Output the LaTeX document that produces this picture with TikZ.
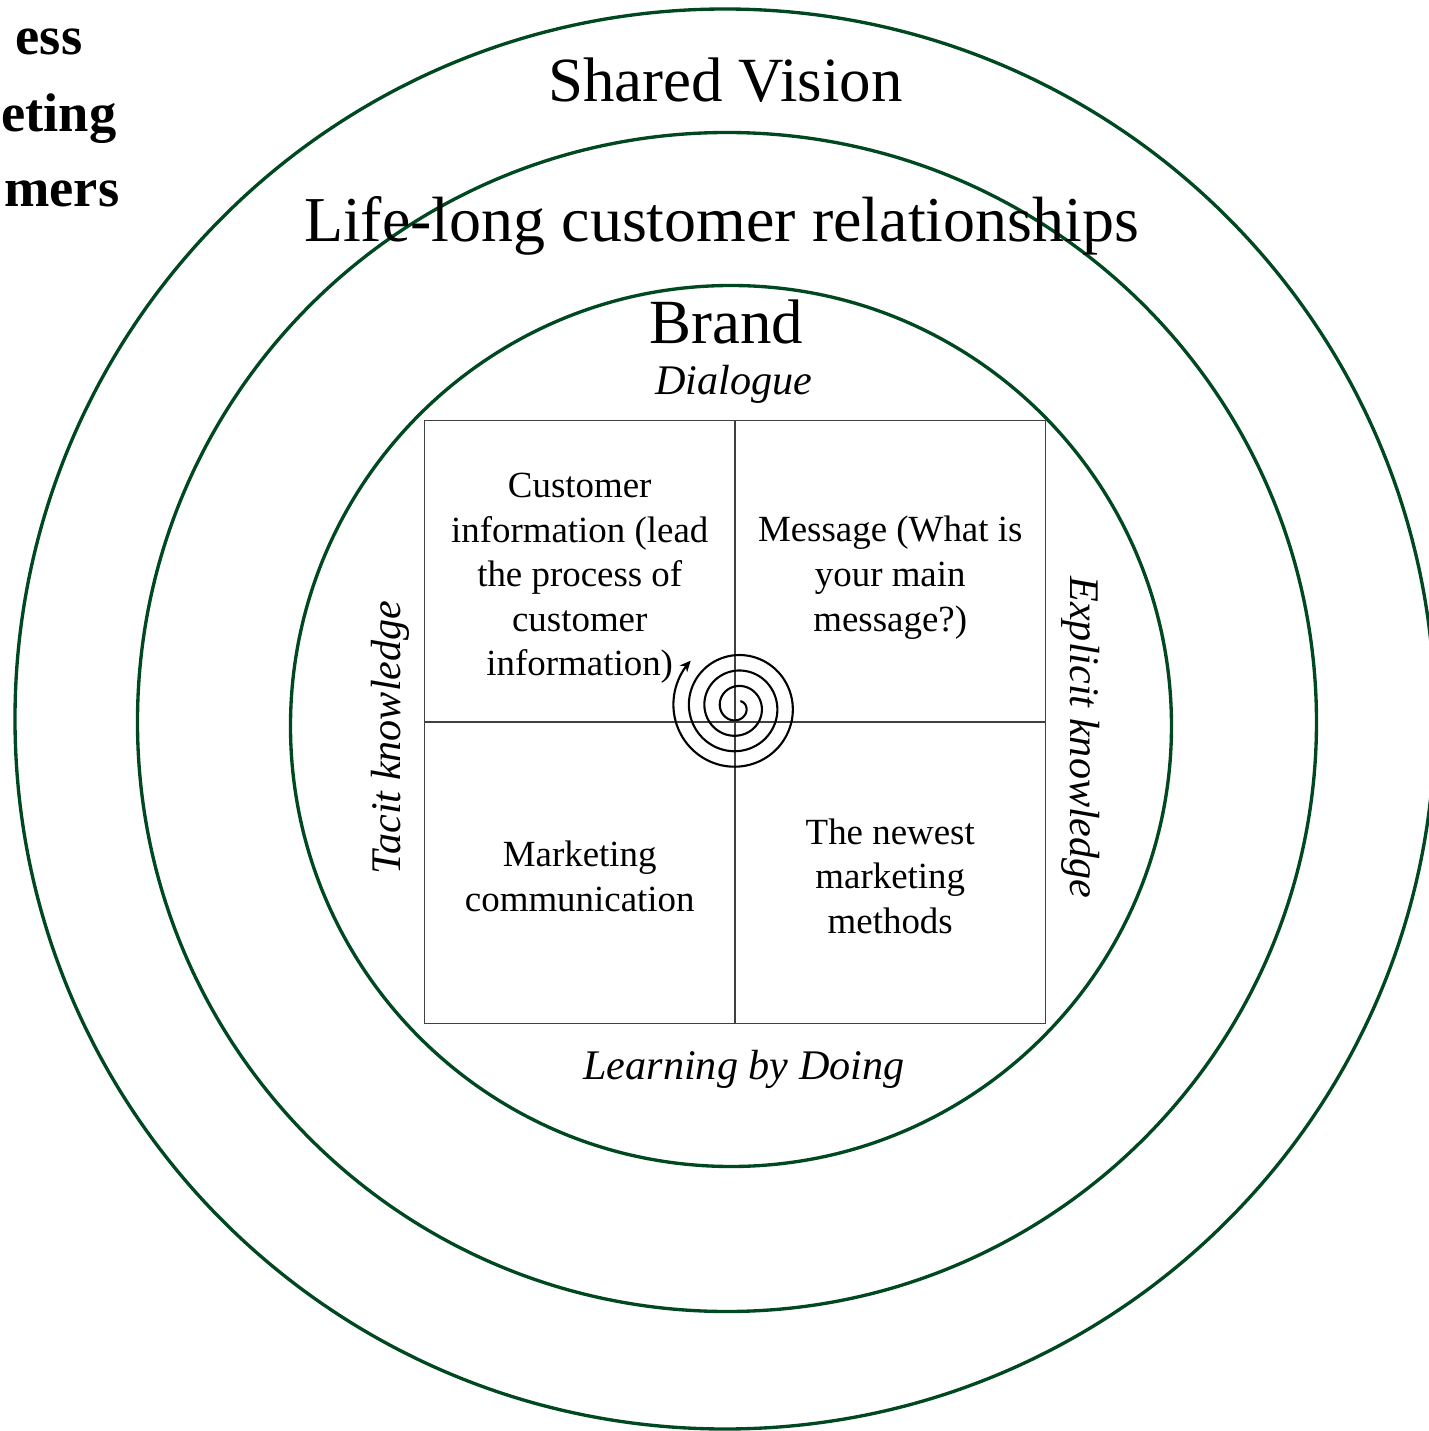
\documentclass[tikz,border=0pt]{standalone}
\usepackage{fontspec}
\setmainfont{Liberation Serif}
\usetikzlibrary{positioning, arrows.meta}
\definecolor{ringgreen}{RGB}{0,72,32}

\begin{document}
\begin{tikzpicture}[
	ring/.style={draw=ringgreen, line width=0.95pt},
	quad/.style={rectangle, draw=black!75, line width=0.45pt, minimum width=3.105cm, minimum height=3.015cm, inner sep=0pt, outer sep=0pt, align=center, font=\fontsize{10.5pt}{12.7pt}\selectfont},
	ringlabel/.style={font=\fontsize{17.9pt}{21pt}\selectfont},
	axislabel/.style={font=\fontsize{12pt}{14pt}\selectfont\itshape},
	cut/.style={font=\fontsize{15.5pt}{19pt}\selectfont\bfseries, inner sep=0pt},
	spiral/.style={line width=0.6pt, -{Stealth[length=1.1mm, width=1mm]}}
	]
	\useasboundingbox (-7.28,-7.11) rectangle (7.01,7.20);
	
	% Cerchi
	\draw[ring] (-0.03,0.01) circle (7.10);
	\draw[ring] (-0.01,-0.02) circle (5.895);
	\draw[ring] (0.03,-0.06) circle (4.405);
	
	% Titolo tagliato
	\node[cut, anchor=base east] (ess) at (-6.45,6.65) {ess};
	\node[cut, anchor=base east] (eting) at (-6.11,5.88) {eting};
	\node[cut, anchor=base east] (mers) at (-6.08,5.13) {mers};
	
	% Livelli
	\node[ringlabel, anchor=base] (vision) at (-0.025,6.18) {Shared Vision};
	\node[ringlabel, anchor=base, font=\fontsize{18.2pt}{21pt}\selectfont] (lifelong) at (-0.065,4.78) {Life-long customer relationships};
	\node[ringlabel, anchor=base] (brand) at (-0.015,3.76) {Brand};
	
	% Quadranti
	\coordinate (mid) at (0.07,-0.02);
	\node[quad, anchor=south east] (info) at (mid) {\rule{0pt}{11pt}Customer\\information (lead\\the process of\\customer\\information)};
	\node[quad, right=0pt of info] (message) {\rule{0pt}{11pt}Message (What is\\your main\\message?)};
	\node[quad, below=0pt of info] (communication) {\rule{0pt}{9.3pt}Marketing\\communication};
	\node[quad, right=0pt of communication] (methods) {\rule{0pt}{9.2pt}The newest\\marketing\\methods};
	
	% Assi
	\node[axislabel, anchor=base] (dialogue) at (0.06,3.26) {Dialogue};
	\node[axislabel, anchor=base] (doing) at (0.16,-3.59) {Learning by Doing};
	\node[axislabel, anchor=base, rotate=90] (tacit) at (-3.27,-0.175) {Tacit knowledge};
	\node[axislabel, anchor=base, rotate=-90] (explicit) at (3.43,-0.175) {Explicit knowledge};
	
	% Spirale
	\draw[spiral] plot[domain=-60:1305, samples=400, smooth, variable=\t] ({0.09+(0.093+0.155*\t/360)*cos(-\t)}, {0.13+(0.093+0.155*\t/360)*sin(-\t)});
\end{tikzpicture}
\end{document}
